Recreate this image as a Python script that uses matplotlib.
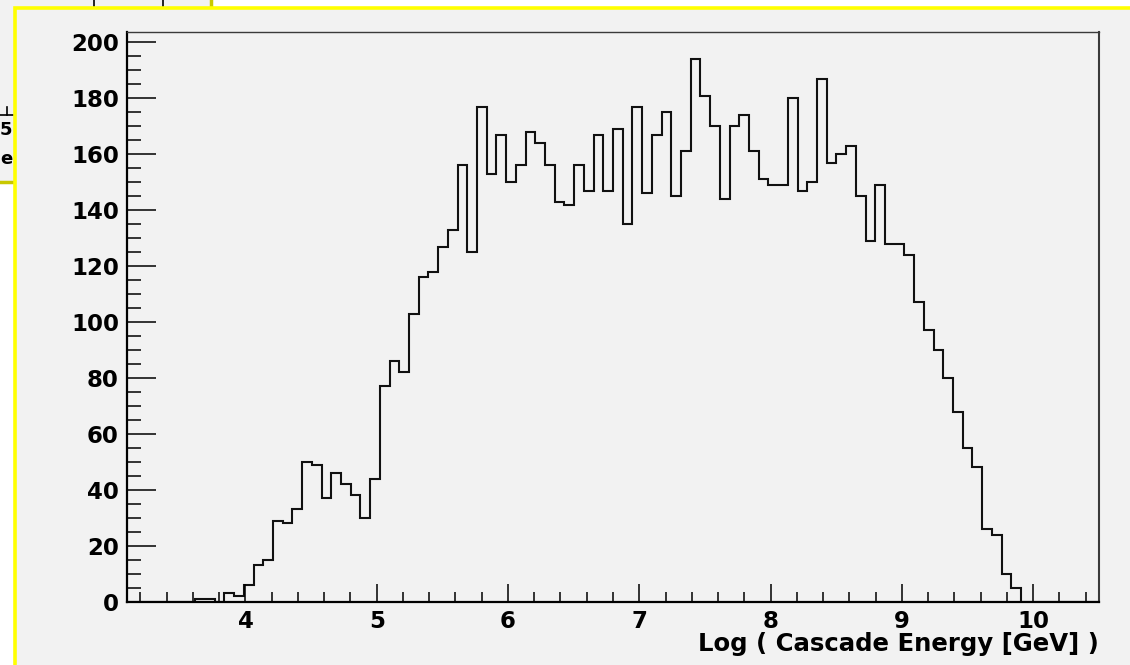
import numpy as np
import matplotlib
matplotlib.use('Agg')
import matplotlib.pyplot as plt
from matplotlib.patches import Rectangle
from matplotlib.lines import Line2D
from matplotlib.ticker import MultipleLocator

# histogram: 100 bins between 3.1 and 10.5
xmin = 3.1
xmax = 10.5
nbins = 100
counts = [0, 0, 0, 0, 0, 0, 0, 1, 1, 0,
          3, 2, 6, 13, 15, 29, 28, 33, 50, 49,
          37, 46, 42, 38, 30, 44, 77, 86, 82, 103,
          116, 118, 127, 133, 156, 125, 177, 153, 167, 150,
          156, 168, 164, 156, 143, 142, 156, 147, 167, 147,
          169, 135, 177, 146, 167, 175, 145, 161, 194, 181,
          170, 144, 170, 174, 161, 151, 149, 149, 180, 147,
          150, 187, 157, 160, 163, 145, 129, 149, 128, 128,
          124, 107, 97, 90, 80, 68, 55, 48, 26, 24,
          10, 5, 0, 0, 0, 0, 0, 0, 0, 0]
xticks = [4, 5, 6, 7, 8, 9, 10]
yticks = [0, 20, 40, 60, 80, 100, 120, 140, 160, 180, 200]
xtitle = 'Log ( Cascade Energy [GeV] )'

W, H = 1130, 665
bg = '#f2f2f2'
fsize = 16.5

def fx(px):
  return px/W

def fy(py):
  return 1 - py/H

plt.rcParams['font.family'] = ['DejaVu Sans']
plt.rcParams['font.weight'] = 'bold'

fig = plt.figure(figsize=(W/100, H/100), dpi=100, facecolor='white')

# window behind (top left) and the canvas window with its yellow frame
back = Rectangle((fx(-10), fy(181.5)), fx(220.5), 181.5/H + 0.05, transform=fig.transFigure,
                 facecolor=bg, edgecolor='#c8c800', lw=2.5, zorder=-10)
fig.patches.append(back)
for px in [94, 163]:
  fig.lines.append(Line2D([fx(px), fx(px)], [fy(0), fy(7)], transform=fig.transFigure,
                          color='black', lw=1.2, zorder=-9))
fig.lines.append(Line2D([fx(0), fx(13)], [fy(115), fy(115)], transform=fig.transFigure,
                        color='black', lw=1.2, zorder=-9))
fig.lines.append(Line2D([fx(7), fx(7)], [fy(107), fy(115)], transform=fig.transFigure,
                        color='black', lw=1.2, zorder=-9))
fig.text(fx(0), fy(130), '5', fontsize=13, ha='left', va='center', zorder=-9)
fig.text(fx(0), fy(159), 'e', fontsize=13, ha='left', va='center', zorder=-9)
front = Rectangle((fx(15), fy(700)), fx(1200), 692.5/H, transform=fig.transFigure,
                  facecolor=bg, edgecolor='#ffff00', lw=2.6, zorder=-8)
fig.patches.append(front)

ax = fig.add_axes([fx(127.3), fy(601.7), fx(1098.7) - fx(127.3), fy(32.3) - fy(601.7)])
ax.set_facecolor(bg)

edges = np.linspace(xmin, xmax, nbins + 1)
ax.stairs(counts, edges, color='#111111', lw=1.5)

ax.set_xlim(xmin, xmax)
ax.set_ylim(0, 203.6)
ax.set_xticks(xticks)
ax.set_yticks(yticks)
ax.xaxis.set_minor_locator(MultipleLocator(0.2))
ax.yaxis.set_minor_locator(MultipleLocator(5))
ax.tick_params(axis='both', which='both', direction='in', labelsize=fsize, width=1.1, color='black')
ax.tick_params(axis='y', which='major', length=21, pad=6)
ax.tick_params(axis='y', which='minor', length=10)
ax.tick_params(axis='x', which='major', length=13, pad=6)
ax.tick_params(axis='x', which='minor', length=7)

for s in ['left', 'bottom']:
  ax.spines[s].set_linewidth(1.6)
  ax.spines[s].set_color('black')
ax.spines['top'].set_linewidth(1.0)
ax.spines['top'].set_color('#3a3a3a')
ax.spines['right'].set_linewidth(1.5)
ax.spines['right'].set_color('#3a3a3a')

fig.text(fx(1098.7), fy(651), xtitle, fontsize=17.6, ha='right', va='baseline')

fig.savefig('out.png', dpi=100, facecolor='white')
